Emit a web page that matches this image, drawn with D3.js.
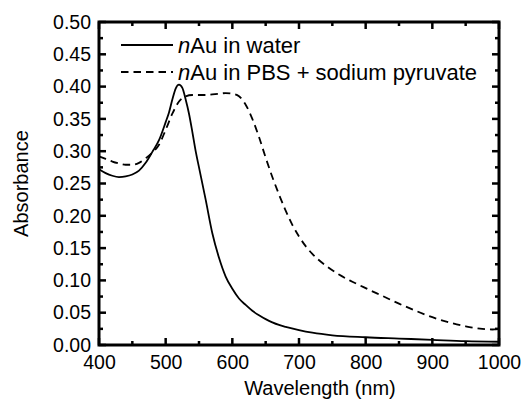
<!DOCTYPE html>
<html>
<head>
<meta charset="utf-8">
<script src="https://cdn.jsdelivr.net/npm/d3@7"></script>
<style>
	body { margin: 0; background: #fff; }
	svg { display: block; font-family: "Liberation Sans", Arial, sans-serif; }
	.axis path { display: none; }
</style>
</head>
<body>
<svg id="chart" width="523" height="405"></svg>
<script>
'use strict';

// spectra
var waterNm = [400,410,420,430,440,450,460,470,480,490,500,505,510,515,520,525,530,535,540,545,550,
	560,570,580,590,600,610,620,630,640,650,660,670,680,700,720,750,800,850,900,950,1000];
var waterAbs = [0.272,0.266,0.262,0.260,0.261,0.264,0.270,0.282,0.299,0.317,0.345,0.360,0.380,0.397,0.403,0.398,0.380,0.358,0.330,0.300,0.275,
	0.225,0.173,0.135,0.106,0.087,0.072,0.062,0.053,0.046,0.040,0.035,0.031,0.028,0.023,0.019,0.015,0.012,0.010,0.008,0.006,0.005];

var pbsNm = [400,410,420,430,440,450,460,470,480,490,500,510,520,530,540,550,560,570,580,590,600,
	610,620,630,640,650,660,670,680,690,700,710,720,740,760,780,800,825,850,875,900,925,950,975,990,1000];
var pbsAbs = [0.292,0.288,0.284,0.281,0.279,0.279,0.282,0.289,0.298,0.310,0.333,0.358,0.377,0.385,0.387,0.387,0.387,0.388,0.389,0.390,0.389,
	0.385,0.372,0.350,0.322,0.290,0.260,0.233,0.208,0.186,0.168,0.153,0.141,0.123,0.109,0.098,0.088,0.076,0.064,0.053,0.043,0.035,0.029,0.025,0.024,0.025];

var xTicks = [400,500,600,700,800,900,1000];
var yTicks = [0,0.05,0.10,0.15,0.20,0.25,0.30,0.35,0.40,0.45,0.50];
var legendLabels = ['in water', 'in PBS + sodium pyruvate'];

(function() {
	var svg = d3.select('#chart');
	var pl = 99, pr = 499, pt = 22, pb = 345;

	var x = d3.scaleLinear().domain([400, 1000]).range([pl, pr]);
	var y = d3.scaleLinear().domain([0, 0.5]).range([pb, pt]);

	var xMinor = d3.range(450, 1000, 100);
	var yMinor = d3.range(0.025, 0.5, 0.05);

	// labels through d3 axes
	function styleAxis(g) {
		g.selectAll('.tick line').remove();
		g.selectAll('.tick text')
			.attr('fill', '#000')
			.attr('font-size', '19.5px')
			.attr('font-family', '"Liberation Sans", Arial, sans-serif');
	}
	svg.append('g').attr('class', 'axis')
		.attr('transform', 'translate(0,' + pb + ')')
		.call(d3.axisBottom(x).tickValues(xTicks).tickSize(0).tickPadding(10).tickFormat(d3.format('d')))
		.call(styleAxis);
	svg.append('g').attr('class', 'axis')
		.attr('transform', 'translate(' + pl + ',0)')
		.call(d3.axisLeft(y).tickValues(yTicks).tickSize(0).tickPadding(8).tickFormat(d3.format('.2f')))
		.call(styleAxis);

	// inward tick marks on all four sides
	var ticks = svg.append('g')
		.attr('stroke', '#000')
		.attr('stroke-width', 2.5);
	function xMarks(vals, len) {
		[[pb, -1], [pt, 1]].forEach(function(s) {
			ticks.selectAll(null).data(vals).enter().append('line')
				.attr('x1', function(d) { return x(d); })
				.attr('x2', function(d) { return x(d); })
				.attr('y1', s[0])
				.attr('y2', s[0] + s[1] * len);
		});
	}
	function yMarks(vals, len) {
		[[pl, 1], [pr, -1]].forEach(function(s) {
			ticks.selectAll(null).data(vals).enter().append('line')
				.attr('y1', function(d) { return y(d); })
				.attr('y2', function(d) { return y(d); })
				.attr('x1', s[0])
				.attr('x2', s[0] + s[1] * len);
		});
	}
	xMarks(xTicks, 7);
	xMarks(xMinor, 4);
	yMarks(yTicks, 7);
	yMarks(yMinor, 4);

	var line = d3.line()
		.x(function(d) { return x(d[0]); })
		.y(function(d) { return y(d[1]); })
		.curve(d3.curveMonotoneX);

	svg.append('path')
		.datum(d3.zip(waterNm, waterAbs))
		.attr('d', line)
		.attr('fill', 'none')
		.attr('stroke', '#000')
		.attr('stroke-width', 1.8);
	svg.append('path')
		.datum(d3.zip(pbsNm, pbsAbs))
		.attr('d', line)
		.attr('fill', 'none')
		.attr('stroke', '#000')
		.attr('stroke-width', 1.8)
		.attr('stroke-dasharray', '7.5,5');

	// frame
	svg.append('rect')
		.attr('x', pl).attr('y', pt)
		.attr('width', pr - pl).attr('height', pb - pt)
		.attr('fill', 'none')
		.attr('stroke', '#000')
		.attr('stroke-width', 3);

	// legend
	var legend = svg.append('g');
	legendLabels.forEach(function(label, i) {
		var ly = 45 + i * 27;
		legend.append('line')
			.attr('x1', 121).attr('x2', 173)
			.attr('y1', ly).attr('y2', ly)
			.attr('stroke', '#000')
			.attr('stroke-width', 1.8)
			.attr('stroke-dasharray', i ? '7.5,5' : null);
		var t = legend.append('text')
			.attr('x', 178).attr('y', ly + 8)
			.attr('font-size', '22px');
		t.append('tspan').attr('font-style', 'italic').text('n');
		t.append('tspan').text('Au ' + label);
	});

	// axis titles
	svg.append('text')
		.attr('x', 320).attr('y', 395)
		.attr('text-anchor', 'middle')
		.attr('font-size', '20px')
		.text('Wavelength (nm)');
	svg.append('text')
		.attr('transform', 'translate(28,' + (pt + pb) / 2 + ') rotate(-90)')
		.attr('text-anchor', 'middle')
		.attr('font-size', '20px')
		.text('Absorbance');
})();
</script>
</body>
</html>
